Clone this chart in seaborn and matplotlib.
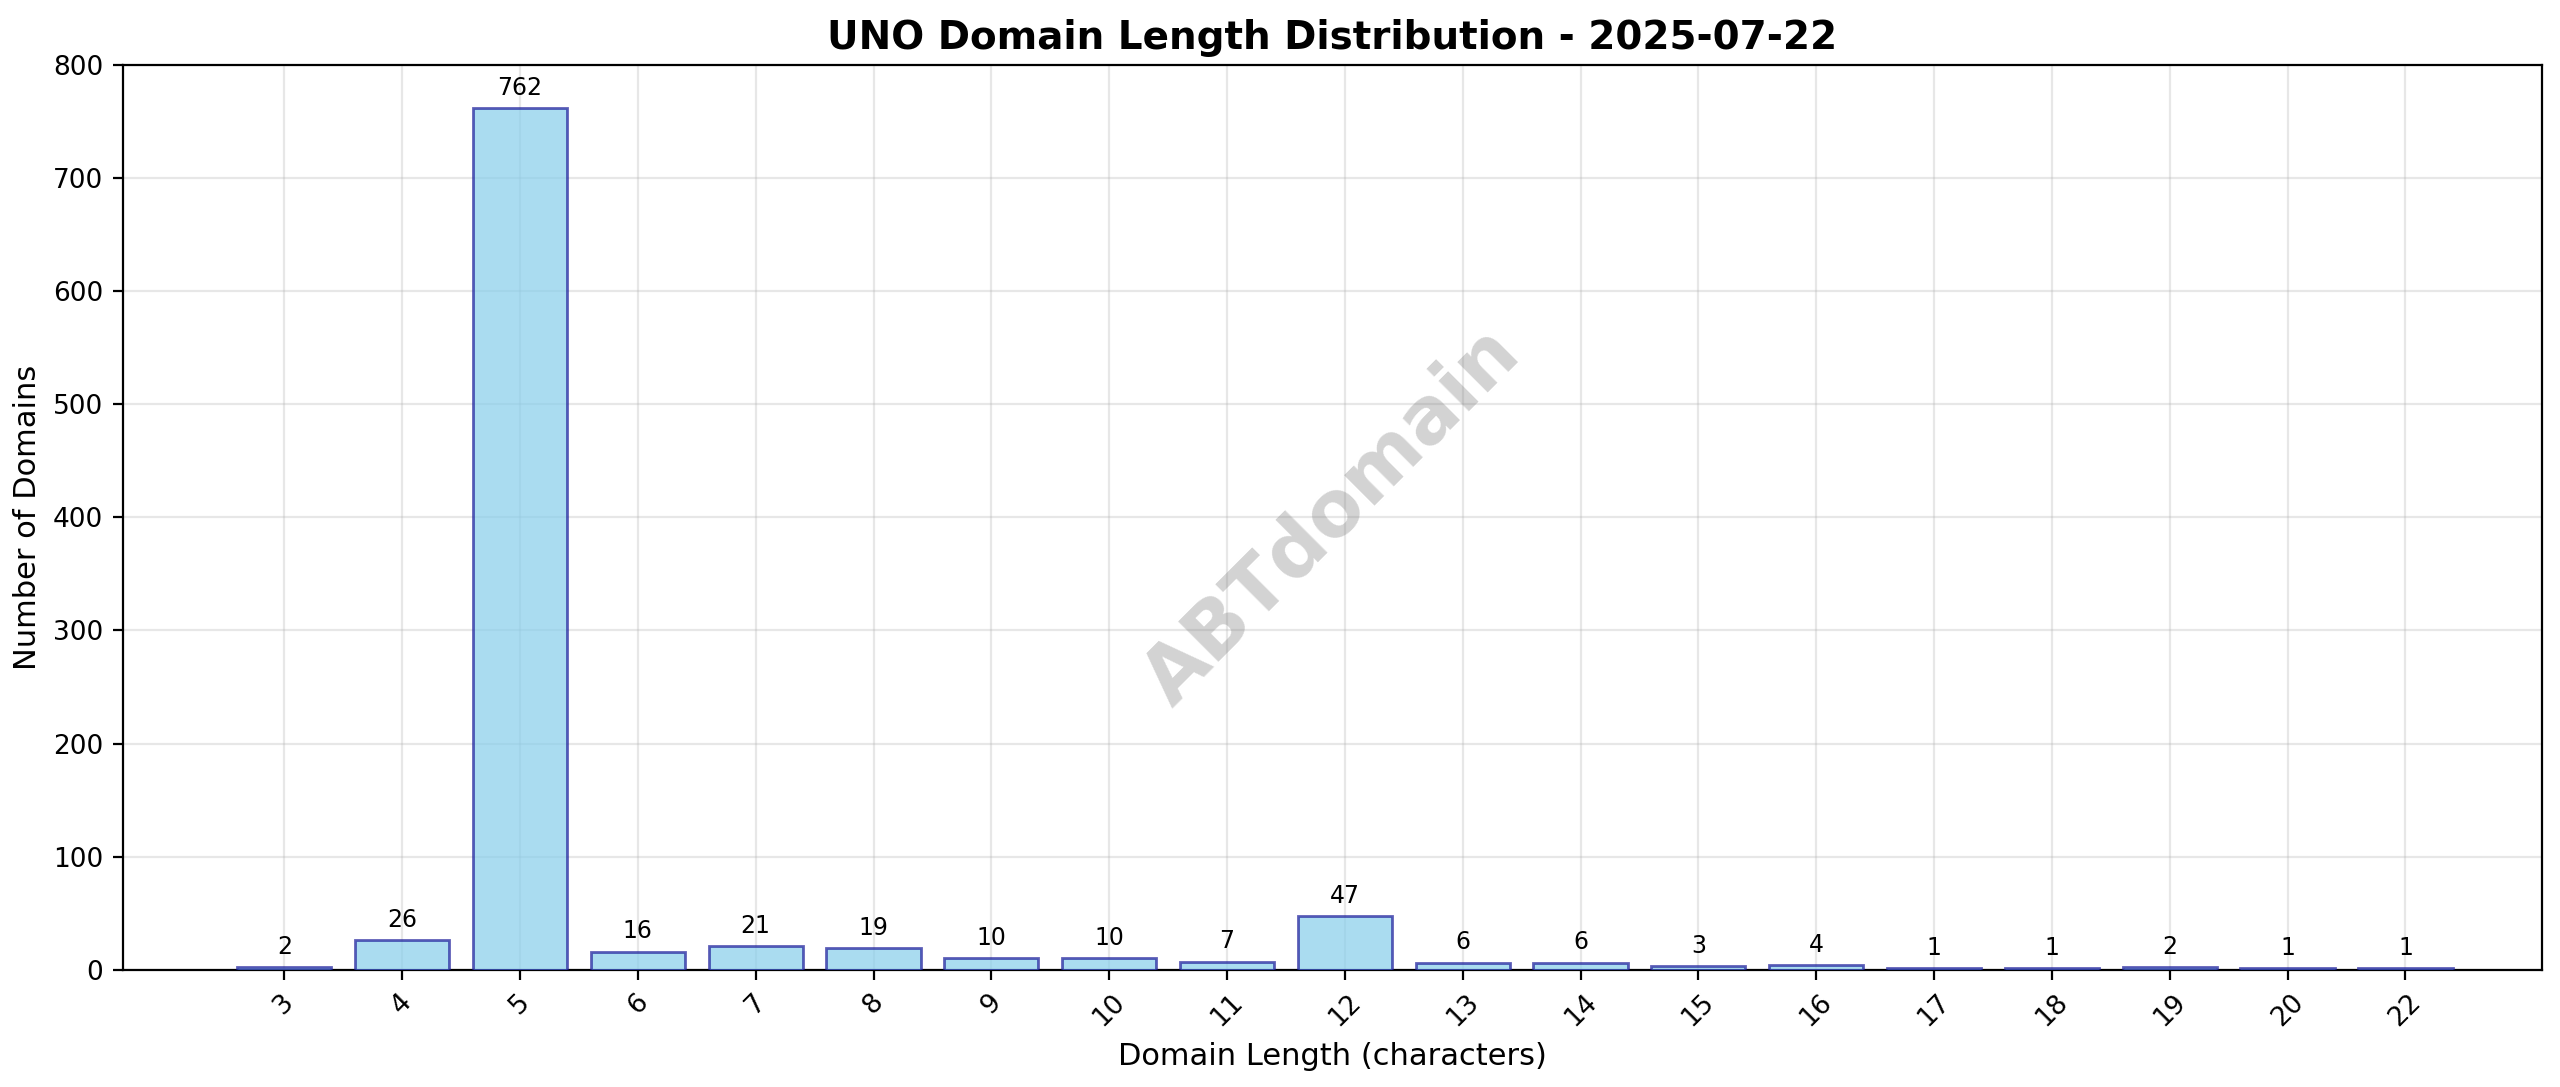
import matplotlib
matplotlib.use("Agg")
import matplotlib.pyplot as plt
import seaborn as sns
import pandas as pd

lengths = ["3","4","5","6","7","8","9","10","11","12","13","14","15","16","17","18","19","20","22"]
counts = [2,26,762,16,21,19,10,10,7,47,6,6,3,4,1,1,2,1,1]

sns.set_style("white")
plt.rcParams['font.family'] = ['DejaVu Sans']
plt.rcParams.update({"text.color": "black", "axes.labelcolor": "black",
                     "xtick.color": "black", "ytick.color": "black"})
df = pd.DataFrame({"len": lengths, "count": counts})

fig, ax = plt.subplots(figsize=(12.8, 5.435), dpi=200)
sns.barplot(data=df, x="len", y="count", order=lengths, color="skyblue", saturation=1,
            alpha=0.7, edgecolor="navy", linewidth=1.0, width=0.8, ax=ax, zorder=3)
for p in ax.patches:
    p.set_edgecolor((0.1, 0.1, 0.6, 0.75))
for c in ax.containers:
    ax.bar_label(c, labels=[str(v) for v in counts], padding=3, fontsize=8.5, color="black")
ax.set_xlim(-1.37, 19.16)
ax.set_ylim(0, 800)
ax.grid(True, color="#b0b0b0", alpha=0.3, linewidth=0.8, zorder=0)
ax.set_axisbelow(True)
for s in ax.spines.values():
    s.set_visible(True); s.set_color("black"); s.set_linewidth(0.8)
ax.tick_params(axis="both", length=3.5, width=0.8, labelsize=9.5, bottom=True, left=True)
plt.setp(ax.get_xticklabels(), rotation=45)
ax.set_xlabel("Domain Length (characters)", fontsize=11)
ax.set_ylabel("Number of Domains", fontsize=11)
ax.set_title("UNO Domain Length Distribution - 2025-07-22", fontsize=14, fontweight="bold")
ax.text(0.5, 0.5, "ABTdomain", transform=ax.transAxes, fontsize=28, fontweight="bold",
        color="gray", alpha=0.35, rotation=45, ha="center", va="center")
fig.subplots_adjust(left=0.048, right=0.993, top=0.94, bottom=0.108)
fig.savefig("out.png", dpi=200)
